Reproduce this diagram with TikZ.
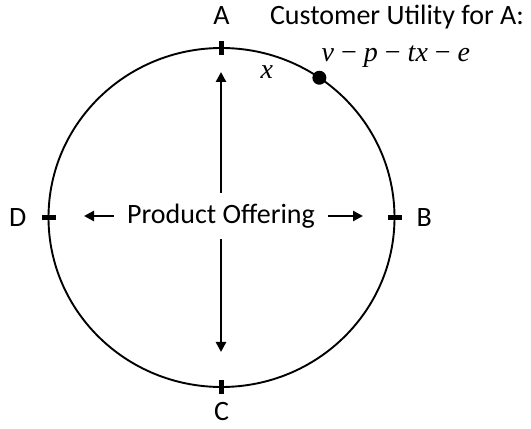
\documentclass[tikz,border=0pt]{standalone}
\usepackage{fontspec}
\setmainfont{Carlito}
\newfontfamily\eqfont{Liberation Serif}
\usetikzlibrary{positioning,arrows.meta,calc,shapes.geometric}

\begin{document}
\begin{tikzpicture}[
    x=1pt, y=1pt,
    lbl/.style={inner sep=0pt, font=\fontsize{28}{32}\selectfont},
    eq/.style={inner sep=0pt, font=\fontsize{28}{32}\selectfont\eqfont},
    market/.style={draw, ellipse, line width=1.9pt, outer sep=0pt, inner sep=0pt, minimum width=346pt, minimum height=339pt},
    tickmark/.style={line width=4.2pt},
    dot/.style={circle, fill, inner sep=0pt, minimum size=14pt},
    arr/.style={-{Triangle[length=10pt, width=10pt]}, line width=2.8pt}
]
    \useasboundingbox (0,0) rectangle (531,429);

    % the market circle and its four firms
    \node[market] (mkt) at (221.5,211.5) {};
    \foreach \s/\dx/\dy in {north/0/1, south/0/-1, east/1/0, west/-1/0}
        \draw[tickmark] (mkt.\s) ++(-7*\dx,-7*\dy) -- ++(14*\dx,14*\dy);

    \node[lbl, above=23pt of mkt.north] (a) {A};
    \node[lbl, below=15pt of mkt.south] (c) {C};
    \node[lbl, left=22pt of mkt.west] (d) {D};
    \node[lbl, right=22pt of mkt.east] (b) {B};

    % customer on the circle
    \node[dot] (cust) at (mkt.55) {};
    \node[eq, left=39pt of cust, yshift=6pt] (dist) {\eqfont\itshape x};
    \node[lbl, base right=40pt of a] (cu) {Customer Utility for A:};
    \node[eq, anchor=base] (util) at ($(cu.base)+(-1,-37)$)
        {\eqfont{\itshape v} − {\itshape p} − {\itshape tx} − {\itshape e}};

    % product offering in the middle
    \node[lbl, inner xsep=13pt, inner ysep=11pt] (offer) at (221,213) {Product Offering};
    \coordinate (upend) at (221,357);
    \coordinate (downend) at (221,77);
    \coordinate (leftend) at (84,213);
    \coordinate (rightend) at (363,213);

    \draw[arr] (offer.north) -- (upend);
    \draw[arr] (offer.south) -- (downend);
    \draw[arr] (offer.west) -- (leftend);
    \draw[arr] (offer.east) -- (rightend);
\end{tikzpicture}
\end{document}
